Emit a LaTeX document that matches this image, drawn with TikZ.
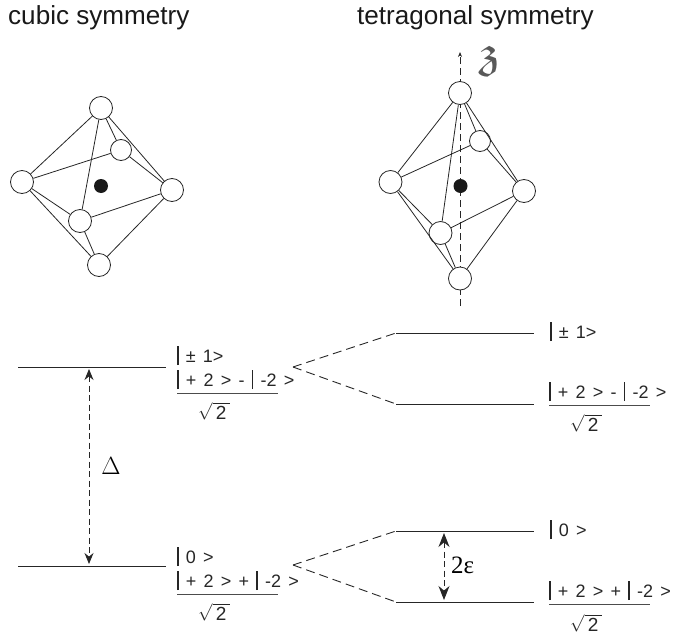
\documentclass[tikz,border=0pt]{standalone}
\usepackage{amssymb}
\usepackage{fontspec}
\setmainfont{Liberation Sans}
\newfontfamily\ketfont[WordSpace=1.45]{Liberation Sans}
\newfontfamily\serifsym{Liberation Serif}
\usetikzlibrary{arrows.meta}
\newcommand{\kb}{\rule[-3pt]{1.4pt}{19.5pt}}
\newcommand{\rtwo}{\fontsize{19}{20}\selectfont$\sqrt{\mbox{\,2\,}}$}
\tikzset{
  x=1pt,y=-1pt,
  ion/.style={circle,draw=black!85,fill=white,line width=0.8pt,minimum size=23pt,inner sep=0pt},
  ionsmall/.style={ion,minimum size=21pt},
  metal/.style={circle,fill=black!90,minimum size=14pt,inner sep=0pt},
  bond/.style={line width=0.8pt,draw=black!85},
  level/.style={line width=1pt,draw=black!85},
  split/.style={line width=0.9pt,draw=black!85,dash pattern=on 9pt off 5pt},
  gap/.style={line width=0.9pt,draw=black!85,dash pattern=on 6pt off 3.5pt,{Stealth[length=11pt,width=9pt]}-{Stealth[length=11pt,width=9pt]}},
  gapbig/.style={line width=0.9pt,draw=black!85,dash pattern=on 6pt off 3.5pt,{Stealth[length=14pt,width=11pt]}-{Stealth[length=14pt,width=11pt]}},
  axis/.style={line width=0.8pt,draw=black!85,dash pattern=on 7pt off 4pt,-{Stealth[length=5pt,width=4pt]}},
  head/.style={font=\fontsize{26.1}{28}\selectfont,anchor=base west,inner sep=0pt,text=black!90},
  ket/.style={font=\ketfont\fontsize{18}{20}\selectfont,anchor=base west,inner sep=0pt,text=black!85},
  frac/.style={line width=0.8pt,draw=black!70},
  sym/.style={font=\fontsize{27}{28}\selectfont,inner sep=0pt,text=black}
}
\begin{document}
\begin{tikzpicture}
\useasboundingbox (0,0) rectangle (673,640);
% headings
\node[head] (h1) at (8,24) {cubic symmetry};
\node[head] (h2) at (357,24) {tetragonal symmetry};
% axis
\coordinate (zbot) at (460,306);
\coordinate (ztop) at (460,52);
\draw[axis] (zbot) -- (ztop);
\node[inner sep=0pt,font=\fontsize{30}{30}\selectfont,xscale=1.9,yscale=1.5,text=black!65] (zlab) at (490,61) {$\mathfrak{z}$};
% cubic octahedron
\node[ion] (ct) at (101,108) {};
\node[ion] (cb) at (99,265) {};
\node[ion] (cl) at (22,182) {};
\node[ion] (cr) at (172,190) {};
\node[ion] (cf) at (80,221) {};
\node[ionsmall] (ck) at (121,150) {};
\node[metal] (cc) at (101,186) {};
\foreach \a/\b in {ct/cl,ct/cr,ct/cf,ct/ck,cl/ck,cl/cf,cl/cb,cr/ck,cr/cf,cr/cb,cb/cf}{\draw[bond] (\a) -- (\b);}
% tetragonal octahedron
\node[ion] (tt) at (460,93) {};
\node[ion] (tb) at (460,278.5) {};
\node[ion] (tl) at (390.5,182) {};
\node[ion] (tr) at (524,191) {};
\node[ion] (tf) at (440.5,233) {};
\node[ionsmall] (tk) at (480,141) {};
\node[metal] (tc) at (460.5,186) {};
\foreach \a/\b in {tt/tl,tt/tr,tt/tf,tt/tk,tl/tk,tl/tf,tl/tb,tr/tk,tr/tf,tr/tb,tb/tf}{\draw[bond] (\a) -- (\b);}
% levels
\coordinate (a1) at (18,367); \coordinate (a2) at (166,367);
\coordinate (b1) at (18,566); \coordinate (b2) at (166,566);
\coordinate (c1) at (396,333); \coordinate (c2) at (534,333);
\coordinate (d1) at (396,404); \coordinate (d2) at (534,404);
\coordinate (e1) at (396,531); \coordinate (e2) at (534,531);
\coordinate (f1) at (396,602); \coordinate (f2) at (534,602);
\foreach \p/\q in {a1/a2,b1/b2,c1/c2,d1/d2,e1/e2,f1/f2}{\draw[level] (\p) -- (\q);}
% splitting
\coordinate (s1) at (293,367);
\coordinate (s2) at (293,565);
\draw[split] (s1) -- (c1);
\draw[split] (s1) -- (d1);
\draw[split] (s2) -- (e1);
\draw[split] (s2) -- (f1);
% gaps
\coordinate (g1) at (89,369); \coordinate (g2) at (89,564);
\draw[gap] (g1) -- (g2);
\node[sym] (delta) at (111,466) {$\Delta$};
\coordinate (g3) at (444,533); \coordinate (g4) at (444,600);
\draw[gapbig] (g3) -- (g4);
\node[sym,anchor=base west,font=\serifsym\fontsize{25}{26}\selectfont] (eps) at (451,573) {2ε};
% left kets
\node[ket] (k1) at (177,362) {\kb{} ± 1>};
\node[ket] (k2) at (177,386) {\kb{} + 2 > - \kb{} -2 >};
\coordinate (k2a) at (177,393.5); \coordinate (k2b) at (278,393.5);
\draw[frac] (k2a) -- (k2b);
\node[ket] (k3) at (198,419) {\rtwo};
\node[ket] (k4) at (177,563) {\kb{} 0 >};
\node[ket] (k5) at (177,587) {\kb{} + 2 > + \kb{} -2 >};
\coordinate (k5a) at (177,594); \coordinate (k5b) at (278,594);
\draw[frac] (k5a) -- (k5b);
\node[ket] (k6) at (198,620) {\rtwo};
% right kets
\node[ket] (r1) at (550,338) {\kb{} ± 1>};
\node[ket] (r2) at (549,398) {\kb{} + 2 > - \kb{} -2 >};
\coordinate (r2a) at (549,405); \coordinate (r2b) at (650,405);
\draw[frac] (r2a) -- (r2b);
\node[ket] (r3) at (570,431) {\rtwo};
\node[ket] (r4) at (550,536) {\kb{} 0 >};
\node[ket] (r5) at (549,597) {\kb{} + 2 > + \kb{} -2 >};
\coordinate (r5a) at (549,604.5); \coordinate (r5b) at (650,604.5);
\draw[frac] (r5a) -- (r5b);
\node[ket] (r6) at (570,631) {\rtwo};
\end{tikzpicture}
\end{document}
